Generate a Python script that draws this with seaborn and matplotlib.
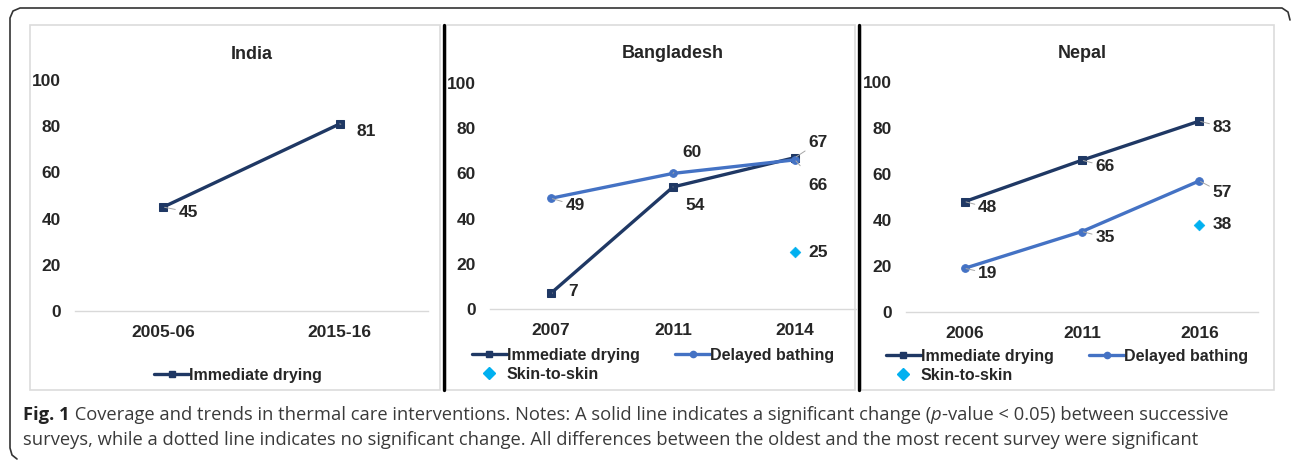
import pandas as pd
import seaborn as sns
import matplotlib.pyplot as plt
from matplotlib.lines import Line2D
from matplotlib.patches import Rectangle

# ---- data ----
india_years = ["2005-06", "2015-16"]
india_drying = [45, 81]

bang_years = ["2007", "2011", "2014"]
bang_drying = [7, 54, 67]
bang_bathing = [49, 60, 66]
bang_skin = [25]          # only 2014

nepal_years = ["2006", "2011", "2016"]
nepal_drying = [48, 66, 83]
nepal_bathing = [19, 35, 57]
nepal_skin = [38]         # only 2016

DRY = "#1f3864"
BATH = "#4472c4"
SKIN = "#00b0f0"

sns.set_style("white")
plt.rcParams['font.family'] = ['Liberation Sans', 'DejaVu Sans']

W, H = 1293, 461
fig = plt.figure(figsize=(W / 100, H / 100), dpi=100)

# background overlay in pixel coords
bg = fig.add_axes([0, 0, 1, 1], zorder=0)
bg.set_xlim(0, W)
bg.set_ylim(H, 0)
bg.axis("off")

# outer rounded frame (top, left, top-right corner)
frame_x = [1290, 1288, 1282, 20, 13, 10, 10, 12, 17]
frame_y = [20, 12, 8, 8, 11, 18, 448, 455, 459]
bg.plot(frame_x, frame_y, color="#333333", lw=1.2)

# light panel boxes
for x0, x1 in [(30, 440), (446, 855), (861, 1274)]:
    bg.add_patch(Rectangle((x0, 25), x1 - x0, 365, fill=False, ec="#dcdcdc", lw=1.2))
# black separators
for xs in [444, 859]:
    bg.plot([xs, xs], [25, 390], color="black", lw=2.4)


def px_axes(left, right, top, bottom):
    return fig.add_axes([left / W, 1 - bottom / H, (right - left) / W, (bottom - top) / H], zorder=2)


def style(ax, ncat, title, title_y):
    ax.set_ylim(0, 100)
    ax.set_xlim(-0.5, ncat - 0.5)
    ax.set_yticks([0, 20, 40, 60, 80, 100])
    ax.patch.set_alpha(0)
    for s in ["top", "right", "left"]:
        ax.spines[s].set_visible(False)
    ax.spines["bottom"].set_color("#d9d9d9")
    ax.spines["bottom"].set_linewidth(1.0)
    ax.tick_params(axis="y", length=0, pad=10, labelsize=12.5)
    ax.tick_params(axis="x", length=0, pad=10, labelsize=12.5)
    for t in ax.get_xticklabels() + ax.get_yticklabels():
        t.set_fontweight("bold")
    ax.set_xlabel("")
    ax.set_ylabel("")
    ax.grid(False)
    ax.set_title(title, fontsize=13, fontweight="bold", pad=title_y)


def label(ax, x, y, txt, dx, dy):
    ax.annotate(txt, (x, y), xytext=(dx, -dy), textcoords="offset pixels",
                ha="center", va="center", fontsize=12.5, fontweight="bold",
                arrowprops=dict(arrowstyle="-", color="#a6a6a6", lw=0.7,
                                shrinkA=9, shrinkB=1),
                annotation_clip=False, zorder=5)


def draw_line(ax, years, vals, color, marker, ms):
    df = pd.DataFrame({"year": years, "value": vals})
    sns.lineplot(data=df, x="year", y="value", ax=ax, color=color, lw=2.4,
                 marker=marker, markersize=ms, markeredgecolor=color, clip_on=False)


# ---- India ----
ax1 = px_axes(75, 428, 80, 311)
draw_line(ax1, india_years, india_drying, DRY, "s", 6)
style(ax1, 2, "India", 15)
for i, (v, d) in enumerate(zip(india_drying, [(25, 5), (26, 8)])):
    label(ax1, i, v, str(v), *d)

# ---- Bangladesh ----
ax2 = px_axes(490, 856, 83, 309)
draw_line(ax2, bang_years, bang_drying, DRY, "s", 6)
draw_line(ax2, bang_years, bang_bathing, BATH, "o", 5.5)
sns.scatterplot(x=[bang_years[2]], y=bang_skin, ax=ax2, color=SKIN, marker="D", s=30,
                edgecolor=SKIN, zorder=4, clip_on=False)
style(ax2, 3, "Bangladesh", 18)
for i, (v, d) in enumerate(zip(bang_drying, [(22, -2), (22, 19), (23, -15)])):
    label(ax2, i, v, str(v), *d)
for i, (v, d) in enumerate(zip(bang_bathing, [(24, 7), (19, -21), (23, 26)])):
    label(ax2, i, v, str(v), *d)
ax2.annotate(str(bang_skin[0]), (2, bang_skin[0]), xytext=(23, 0), textcoords="offset pixels",
             ha="center", va="center", fontsize=12.5, fontweight="bold")

# ---- Nepal ----
ax3 = px_axes(906, 1258, 82, 312)
draw_line(ax3, nepal_years, nepal_drying, DRY, "s", 6)
draw_line(ax3, nepal_years, nepal_bathing, BATH, "o", 5.5)
sns.scatterplot(x=[nepal_years[2]], y=nepal_skin, ax=ax3, color=SKIN, marker="D", s=30,
                edgecolor=SKIN, zorder=4, clip_on=False)
style(ax3, 3, "Nepal", 17)
for i, v in enumerate(nepal_drying):
    label(ax3, i, v, str(v), 23, 6)
for i, (v, d) in enumerate(zip(nepal_bathing, [(23, 5), (23, 6), (23, 12)])):
    label(ax3, i, v, str(v), *d)
ax3.annotate(str(nepal_skin[0]), (2, nepal_skin[0]), xytext=(23, 0), textcoords="offset pixels",
             ha="center", va="center", fontsize=12.5, fontweight="bold")

# ---- legends ----
h_dry = Line2D([], [], color=DRY, lw=2.4, marker="s", markersize=5)
h_bath = Line2D([], [], color=BATH, lw=2.4, marker="o", markersize=4.5)
h_skin = Line2D([], [], color=SKIN, lw=0, marker="D", markersize=6)
leg_kw = dict(frameon=False, prop={"size": 11.5, "weight": "bold"}, handlelength=2.2,
              handletextpad=0.0, borderpad=0, labelspacing=0.25)

fig.legend([h_dry], ["Immediate drying"], loc="center", bbox_to_anchor=(238 / W, 1 - 375 / H), **leg_kw)
fig.legend([h_dry, h_skin, h_bath], ["Immediate drying", "Skin-to-skin", "Delayed bathing"],
           ncol=2, loc="center", columnspacing=2.2, bbox_to_anchor=(653 / W, 1 - 365 / H), **leg_kw)
fig.legend([h_dry, h_skin, h_bath], ["Immediate drying", "Skin-to-skin", "Delayed bathing"],
           ncol=2, loc="center", columnspacing=2.2, bbox_to_anchor=(1067 / W, 1 - 366 / H), **leg_kw)

# ---- caption ----
cap_font = ['Open Sans', 'DejaVu Sans']
cap_size = 13.2
cap_col = "#3a3a3a"
fig.canvas.draw()
renderer = fig.canvas.get_renderer()


def seq_text(x, y, pieces):
    for txt, kw in pieces:
        opts = dict(fontsize=cap_size, color=cap_col, family=cap_font, va="baseline", ha="left")
        opts.update(kw)
        t = bg.text(x, y, txt, **opts)
        bb = t.get_window_extent(renderer=renderer)
        x = x + bb.width


seq_text(23, 420, [("Fig. 1", {"fontweight": "bold", "color": "#222222"}),
                   (" Coverage and trends in thermal care interventions. Notes: A solid line indicates a significant change (", {}),
                   ("p", {"style": "italic"}),
                   ("-value < 0.05) between successive", {})])
seq_text(23, 445, [("surveys, while a dotted line indicates no significant change. All differences between the oldest and the most recent survey were significant", {})])

fig.savefig("out.png", dpi=100)
